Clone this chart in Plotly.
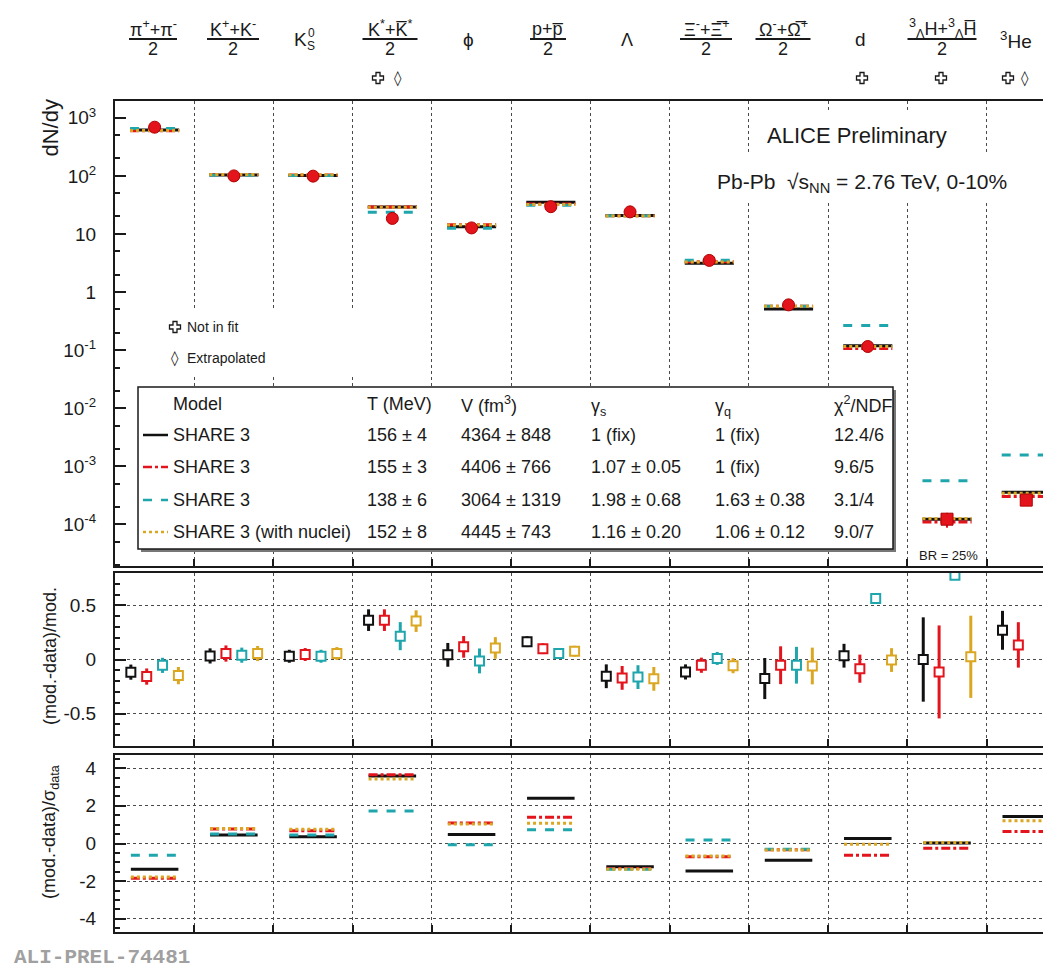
import plotly.graph_objects as go

# page body has an 8px margin: figure is sized so that it ends at the window edge
OFF = 8
W, H = 1051 - OFF, 968 - OFF

# ---------------- data ----------------
species = ["pi", "K", "K0s", "K*", "phi", "p", "Lambda", "Xi", "Omega", "d", "hypertriton", "He3"]

data_yield = [690, 100, 99, 18.5, 12.7, 29.5, 24.0, 3.5, 0.60, 0.115, 1.22e-4, 2.6e-4]
data_yield_err = [30, 5, 5, 2.0, 0.8, 1.5, 1.5, 0.2, 0.05, 0.01, 0.35e-4, 0.4e-4]

yield_black = [615, 103.5, 102, 29.1, 13.3, 35.3, 20.8, 3.14, 0.51, 0.119, 1.22e-4, 3.56e-4]
yield_red = [597, 106, 104, 29.1, 14.4, 32.8, 20.5, 3.32, 0.57, 0.106, 1.09e-4, 3.0e-4]
yield_cyan = [655, 104, 102, 23.6, 12.5, 31.2, 20.6, 3.53, 0.57, 0.264, 5.6e-4, 1.55e-3]
yield_yellow = [603, 106, 105, 28.7, 14.2, 32.0, 20.4, 3.30, 0.566, 0.115, 1.25e-4, 3.42e-4]

rel_black = [-0.117, 0.033, 0.03, 0.364, 0.043, 0.165, -0.155, -0.115, -0.176, 0.035, 0.0, 0.27]
rel_black_err = [0.07, 0.07, 0.06, 0.10, 0.11, 0.05, 0.11, 0.07, 0.19, 0.11, 0.39, 0.18]
rel_red = [-0.158, 0.055, 0.046, 0.364, 0.117, 0.10, -0.17, -0.053, -0.053, -0.085, -0.115, 0.135]
rel_red_err = [0.075, 0.075, 0.06, 0.10, 0.10, 0.05, 0.11, 0.07, 0.175, 0.13, 0.43, 0.21]
rel_cyan = [-0.054, 0.04, 0.03, 0.216, -0.013, 0.055, -0.163, 0.01, -0.053, 0.565, 0.78, None]
rel_cyan_err = [0.07, 0.07, 0.06, 0.13, 0.115, 0.05, 0.11, 0.06, 0.17, 0.0, 0.04, None]
rel_yellow = [-0.149, 0.055, 0.055, 0.355, 0.107, 0.077, -0.179, -0.057, -0.06, -0.005, 0.025, 0.24]
rel_yellow_err = [0.08, 0.07, 0.06, 0.10, 0.10, 0.05, 0.11, 0.07, 0.17, 0.11, 0.38, 0.19]

sig_black = [-1.37, 0.45, 0.36, 3.58, 0.48, 2.4, -1.23, -1.46, -0.89, 0.27, 0.02, 1.44]
sig_red = [-1.85, 0.77, 0.68, 3.65, 1.09, 1.39, -1.33, -0.71, -0.33, -0.62, -0.25, 0.64]
sig_cyan = [-0.62, 0.5, 0.45, 1.72, -0.07, 0.73, -1.37, 0.18, -0.31, None, None, None]
sig_yellow = [-1.78, 0.8, 0.76, 3.43, 1.03, 1.07, -1.37, -0.66, -0.34, -0.04, 0.05, 1.21]

top_tickvals = [1e-4, 1e-3, 1e-2, 1e-1, 1, 10, 1e2, 1e3]
top_ticktext = ["10<sup>-4</sup>", "10<sup>-3</sup>", "10<sup>-2</sup>", "10<sup>-1</sup>", "1", "10",
                "10<sup>2</sup>", "10<sup>3</sup>"]
mid_tickvals = [-0.5, 0, 0.5]
mid_ticktext = ["-0.5", "0", "0.5"]
bot_tickvals = [-4, -2, 0, 2, 4]
bot_ticktext = ["-4", "-2", "0", "2", "4"]

legend_models = ["SHARE 3", "SHARE 3", "SHARE 3", "SHARE 3 (with nuclei)"]
legend_T = ["156 ± 4", "155 ± 3", "138 ± 6", "152 ± 8"]
legend_V = ["4364 ± 848", "4406 ± 766", "3064 ± 1319", "4445 ± 743"]
legend_gs = ["1 (fix)", "1.07 ± 0.05", "1.98 ± 0.68", "1.16 ± 0.20"]
legend_gq = ["1 (fix)", "1 (fix)", "1.63 ± 0.38", "1.06 ± 0.12"]
legend_chi = ["12.4/6", "9.6/5", "3.1/4", "9.0/7"]

# ---------------- style ----------------
FONT = "Liberation Sans, Arial, Helvetica, sans-serif"
INK = "#1a1a1a"
BLACK = "#111111"
RED = "#e3141c"
CYAN = "#1fa6ad"
YELLOW = "#dba722"
GRID = "#4a4a4a"
model_styles = [(BLACK, "solid"), (RED, "dashdot"), (CYAN, "dash"), (YELLOW, "dot")]

n = len(species)
XMAX = (1051 - 115) / 79.24


def px_(x):
    return (x - OFF) / W


def py(y):
    return 1 - (y - OFF) / H


def segs(vals, lo=0.2, hi=0.8):
    xs, ys = [], []
    for i, v in enumerate(vals):
        if v is None:
            continue
        xs += [i + lo, i + hi, None]
        ys += [v, v, None]
    return xs, ys


fig = go.Figure()

# top panel: model lines
for vals, (c, d) in zip([yield_black, yield_red, yield_cyan, yield_yellow], model_styles):
    xs, ys = segs(vals, 0.19, 0.81)
    fig.add_trace(go.Scatter(x=xs, y=ys, mode="lines", line=dict(color=c, dash=d, width=3),
                             xaxis="x", yaxis="y", showlegend=False, hoverinfo="skip"))

# top panel: data
data_x = [i + 0.5 for i in range(n)]
data_sym = ["circle"] * 10 + ["square", "square"]
fig.add_trace(go.Scatter(x=data_x, y=data_yield, mode="markers",
                         marker=dict(symbol=data_sym, size=12, color=RED, line=dict(color="#b00000", width=1)),
                         error_y=dict(type="data", array=data_yield_err, color=RED, thickness=2, width=0),
                         xaxis="x", yaxis="y", showlegend=False))

# middle panel
offsets = [0.2, 0.4, 0.6, 0.8]
for k, (vals, errs, (c, d)) in enumerate(zip([rel_black, rel_red, rel_cyan, rel_yellow],
                                              [rel_black_err, rel_red_err, rel_cyan_err, rel_yellow_err],
                                              model_styles)):
    xs = [i + offsets[k] for i in range(n)]
    fig.add_trace(go.Scatter(x=xs, y=vals, mode="markers",
                             marker=dict(symbol="square", size=9, color="white", line=dict(color=c, width=2)),
                             error_y=dict(type="data", array=errs, color=c, thickness=3, width=0),
                             xaxis="x2", yaxis="y2", showlegend=False))

# bottom panel
for vals, (c, d) in zip([sig_black, sig_red, sig_cyan, sig_yellow], model_styles):
    xs, ys = segs(vals, 0.2, 0.8)
    fig.add_trace(go.Scatter(x=xs, y=ys, mode="lines", line=dict(color=c, dash=d, width=3),
                             xaxis="x3", yaxis="y3", showlegend=False, hoverinfo="skip"))

xcommon = dict(range=[0, XMAX], domain=[px_(115), 1], tickmode="array", tickvals=list(range(1, n)),
               ticks="inside", ticklen=7, tickcolor=INK, tickwidth=1.5, showticklabels=False,
               showline=True, linecolor=INK, linewidth=2, mirror=True,
               showgrid=True, griddash="dot", gridcolor=GRID, gridwidth=1.4, zeroline=False)
ycommon = dict(ticks="inside", ticklen=11, tickcolor=INK, tickwidth=1.5, showline=True,
               linecolor=INK, linewidth=2, mirror=False, zeroline=False,
               tickfont=dict(family=FONT, size=19, color=INK), ticklabelstandoff=13)

fig.update_layout(
    width=W, height=H, margin=dict(l=0, r=0, t=0, b=0, autoexpand=False),
    paper_bgcolor="white", plot_bgcolor="white", showlegend=False,
    font=dict(family=FONT, color=INK),
    xaxis=dict(anchor="y", **xcommon),
    xaxis2=dict(anchor="y2", matches="x", **xcommon),
    xaxis3=dict(anchor="y3", matches="x", **xcommon),
    yaxis=dict(anchor="x", type="log", domain=[py(566), py(101)], range=[-4.72, 3.29],
               tickmode="array", tickvals=top_tickvals, ticktext=top_ticktext, showgrid=False,
               minor=dict(ticks="inside", ticklen=5, tickcolor=INK, showgrid=False), **ycommon),
    yaxis2=dict(anchor="x2", domain=[py(746), py(573)], range=[-0.8, 0.8],
                tickmode="array", tickvals=mid_tickvals, ticktext=mid_ticktext,
                showgrid=True, griddash="dot", gridcolor=GRID, gridwidth=1.4,
                minor=dict(ticks="inside", ticklen=5, tickcolor=INK, dtick=0.1, tick0=0, showgrid=False),
                **ycommon),
    yaxis3=dict(anchor="x3", domain=[py(932), py(755)], range=[-4.7, 4.7],
                tickmode="array", tickvals=bot_tickvals, ticktext=bot_ticktext,
                showgrid=True, griddash="dot", gridcolor=GRID, gridwidth=1.4,
                minor=dict(ticks="inside", ticklen=5, tickcolor=INK, dtick=0.5, tick0=0, showgrid=False),
                **ycommon),
)

shapes = []
annos = []


def rect(x0, y0, x1, y1, fill="white", line=None):
    shapes.append(dict(type="rect", xref="paper", yref="paper", x0=px_(x0), x1=px_(x1), y0=py(y1), y1=py(y0),
                       fillcolor=fill, line=line or dict(width=0), layer="above"))


def text(x, y, s, size=14, anchor="left", color=INK, family=FONT, **kw):
    annos.append(dict(xref="paper", yref="paper", x=px_(x), y=py(y), text=s, showarrow=False,
                      xanchor=anchor, yanchor="middle", font=dict(family=family, size=size, color=color), **kw))


def cross(cx, cy, a=5.5, t=2.0):
    pts = [(-t, -a), (t, -a), (t, -t), (a, -t), (a, t), (t, t), (t, a), (-t, a), (-t, t), (-a, t), (-a, -t),
           (-t, -t)]
    path = "M " + " L ".join(f"{px_(cx + dx):.5f},{py(cy + dy):.5f}" for dx, dy in pts) + " Z"
    shapes.append(dict(type="path", xref="paper", yref="paper", path=path, fillcolor="white",
                       line=dict(color=INK, width=1.3), layer="above"))


# white boxes hiding the grid behind text
rect(760, 112, 962, 155)
rect(705, 155, 1012, 203)
rect(150, 308, 365, 377)
# legend box with shadow
rect(141, 390, 896, 552, fill="#777777")
rect(138, 387, 893, 549, fill="white", line=dict(color=INK, width=1.5))

# legend content
header_y = 404
row_y = [435, 467, 500, 532]
cols = [171, 365, 459, 589, 713, 832]
LF = 18
text(cols[0], header_y, "Model", size=LF)
text(cols[1], header_y, "T (MeV)", size=LF)
text(cols[2], header_y, "V (fm<sup>3</sup>)", size=LF)
text(cols[3], header_y + 3, "γ<sub>s</sub>", size=LF)
text(cols[4], header_y + 3, "γ<sub>q</sub>", size=LF)
text(cols[5], header_y, "χ<sup>2</sup>/NDF", size=LF)
for r, (c, d) in enumerate(model_styles):
    yy = row_y[r]
    shapes.append(dict(type="line", xref="paper", yref="paper", x0=px_(143), x1=px_(168), y0=py(yy), y1=py(yy),
                       line=dict(color=c, dash=d, width=2.5), layer="above"))
    text(cols[0], yy, legend_models[r], size=LF)
    text(cols[1], yy, legend_T[r], size=LF)
    text(cols[2], yy, legend_V[r], size=LF)
    text(cols[3], yy, legend_gs[r], size=LF)
    text(cols[4], yy, legend_gq[r], size=LF)
    text(cols[5], yy, legend_chi[r], size=LF)

# plot texts
text(857, 136, "ALICE Preliminary", size=22, anchor="center")
text(862, 183, "Pb-Pb  √s<sub>NN</sub> = 2.76 TeV, 0-10%", size=21, anchor="center")
cross(175, 327)
text(185, 327, "Not in fit", size=14)
text(175, 358, "◊", size=15, anchor="center", family="DejaVu Sans")
text(185, 358, "Extrapolated", size=14)
text(948, 555, "BR = 25%", size=13, anchor="center", bgcolor="white")
text(12, 957, "<b>ALI-PREL-74481</b>", size=21, color="#a0a0a0",
     family="Liberation Mono, Courier New, monospace")

# axis titles
annos.append(dict(xref="paper", yref="paper", x=px_(50), y=py(98), text="dN/dy", textangle=-90, showarrow=False,
                  xanchor="center", yanchor="top", font=dict(family=FONT, size=22, color=INK)))
annos.append(dict(xref="paper", yref="paper", x=px_(50), y=py(656), text="(mod.-data)/mod.", textangle=-90,
                  showarrow=False, xanchor="center", yanchor="middle", font=dict(family=FONT, size=18, color=INK)))
annos.append(dict(xref="paper", yref="paper", x=px_(50), y=py(832), text="(mod.-data)/σ<sub>data</sub>",
                  textangle=-90, showarrow=False, xanchor="center", yanchor="middle",
                  font=dict(family=FONT, size=18, color=INK)))

# column labels
fractions = [
    (153, "π<sup>+</sup>+π<sup>-</sup>", 48),
    (233, "K<sup>+</sup>+K<sup>-</sup>", 52),
    (390, "K<sup>*</sup>+K\u0305<sup>*</sup>", 55),
    (548, "p+p\u0305", 36),
    (706, "Ξ<sup>-</sup>+Ξ\u0305<sup>+</sup>", 52),
    (783, "Ω<sup>-</sup>+Ω\u0305<sup>+</sup>", 55),
    (942, "<sup>3</sup><sub>Λ</sub>H+<sup>3</sup><sub>Λ</sub>H\u0305", 69),
]
for x, num, w in fractions:
    text(x, 29, num, size=18, anchor="center")
    shapes.append(dict(type="line", xref="paper", yref="paper", x0=px_(x - w / 2), x1=px_(x + w / 2),
                       y0=py(39), y1=py(39), line=dict(color=INK, width=1.8)))
    text(x, 49, "2", size=18, anchor="center")

text(300, 40, "K", size=19, anchor="center")
text(311, 33, "0", size=12, anchor="center")
text(311, 46, "S", size=12, anchor="center")
text(468, 40, "\u03d5", size=19, anchor="center")
text(627, 40, "Λ", size=18, anchor="center")
text(860, 40, "d", size=19, anchor="center")
text(1016, 40, "<sup>3</sup>He", size=19, anchor="center")

for x in [378, 862, 941, 1008]:
    cross(x, 78)
for x in [398, 1025]:
    text(x, 78, "◊", size=15, anchor="center", family="DejaVu Sans")

fig.update_layout(shapes=shapes, annotations=annos)
fig.write_html("out.html")
